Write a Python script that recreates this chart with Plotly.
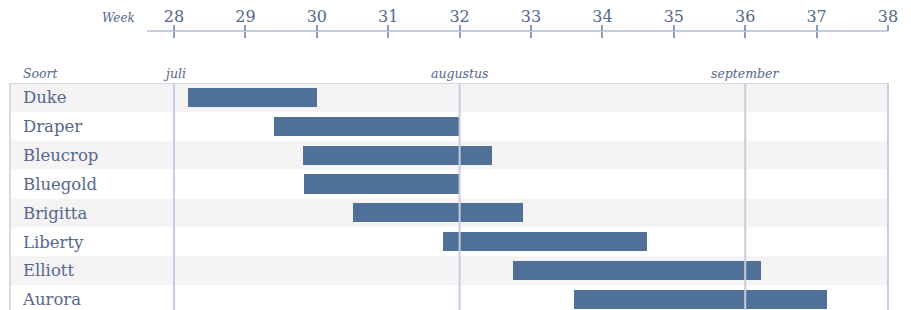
import plotly.graph_objects as go

# ---- data ----
varieties = ["Duke", "Draper", "Bleucrop", "Bluegold", "Brigitta", "Liberty", "Elliott", "Aurora"]
start_week = [28.2, 29.4, 29.8, 29.82, 30.5, 31.77, 32.75, 33.6]
end_week = [30.0, 32.0, 32.46, 32.0, 32.89, 34.62, 36.22, 37.14]
week_ticks = [28, 29, 30, 31, 32, 33, 34, 35, 36, 37, 38]
months = ["juli", "augustus", "september"]
month_weeks = [28, 32, 36]

# ---- style ----
W, H = 911, 310
FONT = "DejaVu Serif"
TXT = "#55678e"
LINE = "#c7cde0"
BAR = "#4f7197"
ROWBG = "#f5f3f4"

# pixel geometry helpers (layout only)
x28_px, x38_px = 174, 888
ppw = (x38_px - x28_px) / 10.0
def px2wk(px):
    return 28 + (px - x28_px) / ppw

def ypaper(px):
    return 1 - px / H

table_top = 83
row_h = 28.86
y_bottom = -0.5 + (H - table_top) / row_h

durations = [e - s for s, e in zip(start_week, end_week)]

fig = go.Figure()
fig.add_trace(go.Bar(
    y=varieties, x=durations, base=start_week, orientation="h",
    marker=dict(color=BAR, line=dict(width=0)), width=0.66,
    showlegend=False, hoverinfo="skip",
))
# invisible helper traces so the top week axes render
for xa in ["x2", "x3", "x4"]:
    fig.add_trace(go.Scatter(
        x=week_ticks, y=[0.5] * len(week_ticks), xaxis=xa, yaxis="y2",
        mode="markers", marker=dict(opacity=0), showlegend=False, hoverinfo="skip",
    ))

shapes = []
x_left = px2wk(10)
for i, v in enumerate(varieties):
    if i % 2 == 0:
        shapes.append(dict(type="rect", xref="x", yref="y", x0=x_left, x1=38,
                           y0=i - 0.5, y1=i + 0.5, fillcolor=ROWBG,
                           line=dict(width=0), layer="below"))
shapes.append(dict(type="line", xref="x", yref="y", x0=x_left, x1=38,
                   y0=-0.5, y1=-0.5, line=dict(color=LINE, width=1.5)))
shapes.append(dict(type="line", xref="x", yref="y", x0=x_left, x1=x_left,
                   y0=-0.5, y1=y_bottom, line=dict(color=LINE, width=1.5)))
for wk in month_weeks + [38]:
    shapes.append(dict(type="line", xref="x", yref="y", x0=wk, x1=wk,
                       y0=-0.5, y1=y_bottom, line=dict(color=LINE, width=2),
                       layer="above"))

annotations = []
y_head = ypaper(73)
annotations.append(dict(text="Soort", xref="x", yref="paper", x=px2wk(21), y=y_head,
                        xanchor="left", yanchor="middle", showarrow=False,
                        font=dict(family=FONT, size=12.5, color=TXT, style="italic")))
for m, wk in zip(months, month_weeks):
    annotations.append(dict(text=m, xref="x", yref="paper", x=wk, y=y_head,
                            xanchor="center", yanchor="middle", showarrow=False,
                            font=dict(family=FONT, size=12.5, color=TXT, style="italic")))
annotations.append(dict(text="Week", xref="x", yref="paper", x=px2wk(118), y=ypaper(18),
                        xanchor="center", yanchor="middle", showarrow=False,
                        font=dict(family=FONT, size=12, color=TXT, style="italic")))

top_range = [px2wk(147), 38]
top_domain = [147 / W, 888 / W]
tick_common = dict(range=top_range, anchor="y2", side="top", showgrid=False,
                   zeroline=False, tickvals=week_ticks, tickwidth=1.5,
                   tickcolor="#8a9cbf", ticklen=6, automargin=False)
fig.update_layout(
    width=W, height=H,
    margin=dict(l=0, r=0, t=0, b=0, pad=0),
    paper_bgcolor="white", plot_bgcolor="rgba(0,0,0,0)",
    bargap=0,
    xaxis=dict(domain=[0, 1], range=[px2wk(0), px2wk(W)], showgrid=False,
               zeroline=False, showticklabels=False, ticks="", showline=False,
               automargin=False),
    yaxis=dict(domain=[0, (H - table_top) / H], type="category",
               categoryorder="array", categoryarray=varieties,
               range=[y_bottom, -0.5], showgrid=False, zeroline=False,
               ticks="", showline=False, ticklabelposition="inside",
               ticklabelstandoff=20, automargin=False,
               tickfont=dict(family=FONT, size=16.5, color=TXT)),
    xaxis2=dict(domain=top_domain, showline=True, linecolor=LINE, linewidth=2,
                ticks="", ticktext=[str(w) for w in week_ticks],
                ticklabelstandoff=2,
                tickfont=dict(family=FONT, size=16, color=TXT),
                **{k: v for k, v in tick_common.items() if k != "ticklen"}),
    xaxis3=dict(overlaying="x2", showline=False, ticks="inside",
                showticklabels=False, **tick_common),
    xaxis4=dict(overlaying="x2", showline=False, ticks="outside",
                showticklabels=False, **tick_common),
    yaxis2=dict(domain=[ypaper(40), ypaper(32)], range=[0, 1], visible=False,
                automargin=False),
    shapes=shapes,
    annotations=annotations,
)

fig.write_html(
    "out.html",
    config={"displayModeBar": False},
    post_script="document.body.style.margin='0';document.body.style.overflow='hidden';",
)
